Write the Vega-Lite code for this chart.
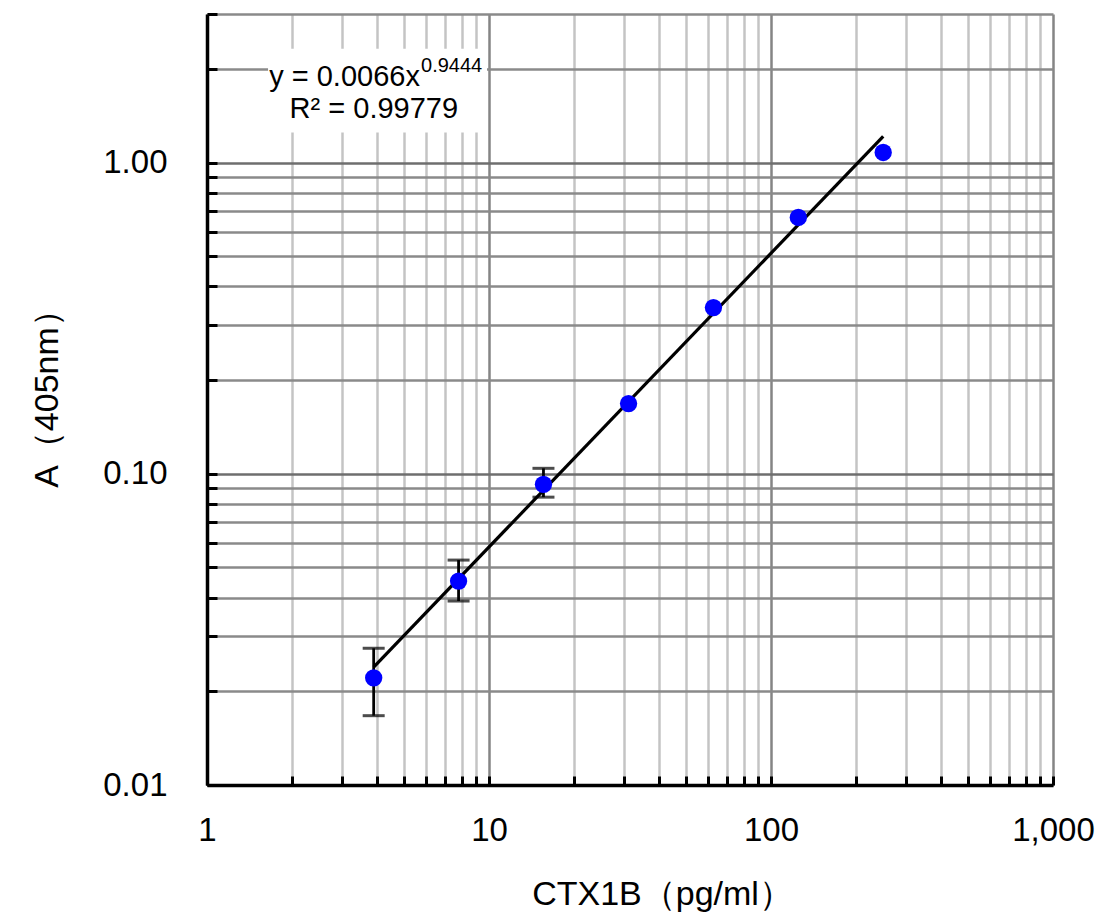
{
  "$schema": "https://vega.github.io/schema/vega-lite/v6.json",
  "width": 846,
  "height": 771,
  "autosize": {"type": "none"},
  "padding": {"left": 207, "top": 14, "right": 67, "bottom": 132},
  "background": "white",
  "config": {
    "view": {"stroke": null},
    "font": "Liberation Sans",
    "text": {"font": "Liberation Sans", "color": "black"}
  },
  "datasets": {
    "points": [
      {"x": 3.9, "y": 0.0221, "lo": 0.0167, "hi": 0.0275},
      {"x": 7.8, "y": 0.0452, "lo": 0.039, "hi": 0.0528},
      {"x": 15.6, "y": 0.0925, "lo": 0.0841, "hi": 0.1041},
      {"x": 31.25, "y": 0.168, "lo": null, "hi": null},
      {"x": 62.5, "y": 0.342, "lo": null, "hi": null},
      {"x": 125, "y": 0.666, "lo": null, "hi": null},
      {"x": 250, "y": 1.077, "lo": null, "hi": null}
    ],
    "trend": [
      {"x": 3.9, "y": 0.0239},
      {"x": 250, "y": 1.214}
    ],
    "box": [
      {"x": 1.646, "x2": 9.84, "y": 1.248, "y2": 2.32}
    ],
    "eq": [
      {"x": 5.69, "y": 1.767, "label": "y = 0.0066x"}
    ],
    "sup": [
      {"x": 5.74, "y": 1.96, "label": "0.9444"}
    ],
    "r2": [
      {"x": 7.77, "y": 1.385, "label": "R² = 0.99779"}
    ]
  },
  "encoding": {
    "x": {
      "field": "x",
      "type": "quantitative",
      "scale": {"type": "log", "domain": [1, 1000], "nice": false},
      "title": "CTX1B（pg/ml）",
      "axis": {
        "values": [1,2,3,4,5,6,7,8,9,10,20,30,40,50,60,70,80,90,100,200,300,400,500,600,700,800,900,1000],
        "labelExpr": "datum.value == 1 ? '1' : datum.value == 10 ? '10' : datum.value == 100 ? '100' : datum.value == 1000 ? '1,000' : ''",
        "labelFont": "Liberation Sans",
        "labelFontSize": 33,
        "labelColor": "black",
        "labelPadding": 38,
        "labelOverlap": false,
        "labelFlush": false,
        "grid": true,
        "gridColor": {"condition": {"test": "datum.value == 1 || datum.value == 10 || datum.value == 100 || datum.value == 1000", "value": "#858585"}, "value": "#c4c4c4"},
        "gridWidth": 2.5,
        "domain": true,
        "domainColor": "black",
        "domainWidth": 3.5,
        "ticks": true,
        "tickColor": "black",
        "tickWidth": 3,
        "tickSize": -9,
        "titleFont": "Liberation Sans",
        "titleFontSize": 34,
        "titleFontWeight": "normal",
        "titleColor": "black",
        "titlePadding": 30,
        "titleX": 455
      }
    },
    "y": {
      "field": "y",
      "type": "quantitative",
      "scale": {"type": "log", "domain": [0.01, 3], "nice": false},
      "title": "A（405nm）",
      "axis": {
        "values": [0.01,0.02,0.03,0.04,0.05,0.06,0.07,0.08,0.09,0.1,0.2,0.3,0.4,0.5,0.6,0.7,0.8,0.9,1,2,3],
        "labelExpr": "datum.value == 0.01 ? '0.01' : datum.value == 0.1 ? '0.10' : datum.value == 1 ? '1.00' : ''",
        "labelFont": "Liberation Sans",
        "labelFontSize": 33,
        "labelColor": "black",
        "labelPadding": 50,
        "labelOverlap": false,
        "labelFlush": false,
        "grid": true,
        "gridColor": {"condition": {"test": "datum.value == 0.01 || datum.value == 0.1 || datum.value == 1", "value": "#6e6e6e"}, "value": "#8a8a8a"},
        "gridWidth": 2.5,
        "domain": true,
        "domainColor": "black",
        "domainWidth": 3.5,
        "ticks": true,
        "tickColor": "black",
        "tickWidth": 3,
        "tickSize": -10,
        "titleFont": "Liberation Sans",
        "titleFontSize": 34,
        "titleFontWeight": "normal",
        "titleColor": "black",
        "titlePadding": 38,
        "titleY": 376
      }
    }
  },
  "layer": [
    {
      "data": {"name": "box"},
      "mark": {"type": "rect", "fill": "white", "stroke": null},
      "encoding": {
        "x2": {"field": "x2"},
        "y2": {"field": "y2"}
      }
    },
    {
      "data": {"name": "trend"},
      "mark": {"type": "line", "color": "black", "strokeWidth": 3.2}
    },
    {
      "data": {"name": "points"},
      "transform": [{"filter": "isValid(datum.lo)"}],
      "mark": {
        "type": "errorbar",
        "ticks": {"size": 22, "thickness": 3, "color": "black"},
        "rule": {"strokeWidth": 2.8, "color": "black"}
      },
      "encoding": {
        "y": {"field": "lo", "type": "quantitative", "title": "A（405nm）"},
        "y2": {"field": "hi"}
      }
    },
    {
      "data": {"name": "points"},
      "mark": {"type": "circle", "color": "#0000ff", "opacity": 1, "size": 300}
    },
    {
      "data": {"name": "eq"},
      "mark": {"type": "text", "align": "right", "baseline": "alphabetic", "fontSize": 29, "font": "Liberation Sans"},
      "encoding": {"text": {"field": "label"}}
    },
    {
      "data": {"name": "sup"},
      "mark": {"type": "text", "align": "left", "baseline": "alphabetic", "fontSize": 20, "font": "Liberation Sans"},
      "encoding": {"text": {"field": "label"}}
    },
    {
      "data": {"name": "r2"},
      "mark": {"type": "text", "align": "right", "baseline": "alphabetic", "fontSize": 29, "font": "Liberation Sans"},
      "encoding": {"text": {"field": "label"}}
    }
  ]
}
